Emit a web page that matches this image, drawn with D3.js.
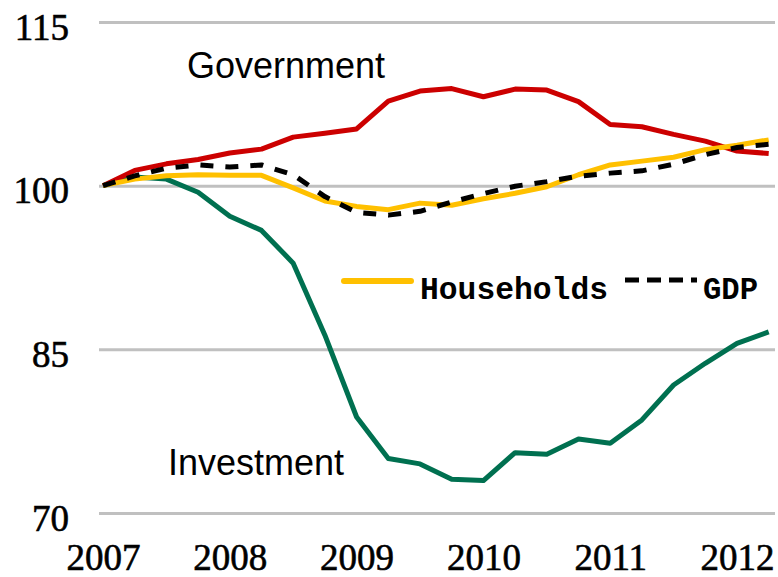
<!DOCTYPE html>
<html>
<head>
<meta charset="utf-8">
<script src="https://cdn.jsdelivr.net/npm/d3@7"></script>
<style>
  body { margin: 0; background: #fff; }
  .tick text { font-family: "Liberation Serif", serif; font-size: 37px; fill: #000; stroke: #000; stroke-width: 0.6px; }
  .label { font-family: "Liberation Sans", Arial, sans-serif; font-size: 36px; fill: #000; }
  .legend text { font-family: "Liberation Mono", monospace; font-weight: bold; font-size: 32px; fill: #000; }
</style>
</head>
<body>
<script>
// quarterly index, 2007Q1 = 100
var periods = [2007, 2007.25, 2007.5, 2007.75, 2008, 2008.25, 2008.5, 2008.75,
               2009, 2009.25, 2009.5, 2009.75, 2010, 2010.25, 2010.5, 2010.75,
               2011, 2011.25, 2011.5, 2011.75, 2012, 2012.25];
var government = [100, 101.4, 102.0, 102.4, 103.0, 103.35, 104.45, 104.8, 105.2, 107.75, 108.67,
                  108.9, 108.15, 108.85, 108.76, 107.7, 105.6, 105.4, 104.7, 104.08, 103.17, 102.95];
var households = [100, 100.6, 100.9, 101.0, 100.95, 100.95, 99.8, 98.6, 98.1, 97.8, 98.4,
                  98.2, 98.8, 99.3, 99.9, 101.0, 101.9, 102.25, 102.6, 103.3, 103.7, 104.2];
var gdp = [100, 100.9, 101.6, 101.9, 101.7, 101.9, 101.0, 99.0, 97.55, 97.3, 97.65,
           98.5, 99.27, 99.95, 100.37, 100.87, 101.15, 101.36, 101.97, 102.84, 103.5, 103.8];
var investment = [100, 100.8, 100.6, 99.4, 97.2, 95.9, 92.9, 86.3, 78.8, 75.0, 74.5,
                  73.1, 72.97, 75.53, 75.38, 76.79, 76.4, 78.53, 81.73, 83.72, 85.55, 86.6];
var yearTicks = [2007, 2008, 2009, 2010, 2011, 2012];
var valueTicks = [70, 85, 100, 115];

var W = 778, H = 577;
var GRID_X0 = 99, GRID_X1 = 775;

var svg = d3.select("body").append("svg")
    .attr("width", W)
    .attr("height", H);

var x = d3.scaleLinear().domain([2007, 2012]).range([103, 737]);
var y = d3.scaleLinear().domain([70, 115]).range([513, 22]);

// horizontal grid + value labels
var yAxis = svg.append("g")
    .attr("transform", "translate(" + GRID_X0 + ",0)")
    .call(d3.axisLeft(y).tickValues(valueTicks).tickSize(-(GRID_X1 - GRID_X0)).tickPadding(30));
yAxis.select(".domain").remove();
yAxis.selectAll(".tick line").attr("stroke", "#c0c0c0").attr("stroke-width", 3);
yAxis.selectAll(".tick text").attr("dy", 17);

// year labels
var xAxis = svg.append("g")
    .attr("transform", "translate(0,570)")
    .call(d3.axisBottom(x).tickValues(yearTicks).tickFormat(d3.format("d")).tickSize(0).tickPadding(0));
xAxis.select(".domain").remove();
xAxis.selectAll(".tick text").attr("dy", 0);

var line = d3.line()
    .x(function(d, i) { return x(periods[i]); })
    .y(function(d) { return y(d); });

var series = [
    {name: "Investment", values: investment, color: "#007050", dash: null},
    {name: "Government", values: government, color: "#cc0000", dash: null},
    {name: "Households", values: households, color: "#ffc000", dash: null},
    {name: "GDP", values: gdp, color: "#000000", dash: "13,12"}
];

svg.selectAll(".series")
    .data(series)
  .enter().append("path")
    .attr("class", "series")
    .attr("fill", "none")
    .attr("stroke", function(d) { return d.color; })
    .attr("stroke-width", 5)
    .attr("stroke-linejoin", "round")
    .attr("stroke-dasharray", function(d) { return d.dash; })
    .attr("d", function(d) { return line(d.values); });

// in-chart labels
svg.append("text").attr("class", "label").attr("x", 187).attr("y", 78).text("Government");
svg.append("text").attr("class", "label").attr("x", 168).attr("y", 475).text("Investment");

// legend
var legend = svg.append("g").attr("class", "legend");
legend.append("line")
    .attr("x1", 344).attr("x2", 411).attr("y1", 281).attr("y2", 281)
    .attr("stroke", "#ffc000").attr("stroke-width", 6).attr("stroke-linecap", "round");
legend.append("text").attr("x", 420).attr("y", 299)
    .attr("textLength", 188).attr("lengthAdjust", "spacingAndGlyphs").text("Households");
legend.append("line")
    .attr("x1", 625).attr("x2", 697).attr("y1", 280).attr("y2", 280)
    .attr("stroke", "#000").attr("stroke-width", 5).attr("stroke-dasharray", "14,8");
legend.append("text").attr("x", 703).attr("y", 299)
    .attr("textLength", 55).attr("lengthAdjust", "spacingAndGlyphs").text("GDP");
</script>
</body>
</html>
